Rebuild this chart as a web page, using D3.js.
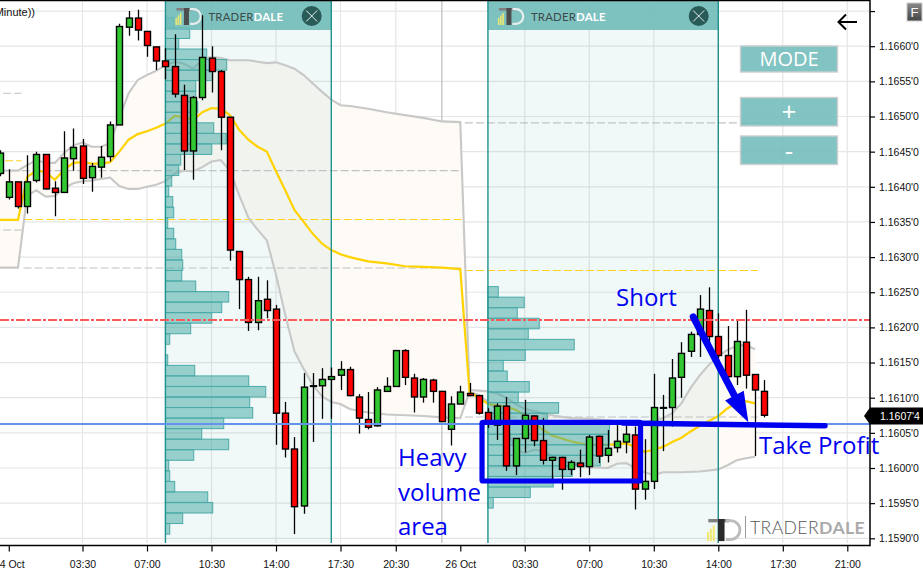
<!DOCTYPE html>
<html><head><meta charset="utf-8">
<style>html,body{margin:0;padding:0;background:#fff;overflow:hidden}svg{display:block}</style>
<script src="https://cdn.jsdelivr.net/npm/d3@7"></script></head>
<body><svg id="c" width="923" height="573"></svg>
<script>
const candleHours=[-1,-.5,0,.5,1,1.5,2,2.5,3,3.5,4,4.5,5,5.5,6,6.5,7,7.5,8,8.5,9,9.5,10,10.5,11,11.5,12,12.5,13,13.5,14,14.5,15,15.5,16,16.5,17,17.5,18,18.5,19,19.5,20,20.5,21,21.5,22,22.5,23,23.5,24,24.5,25,25.5,26,26.5,27,27.5,28,28.5,29,29.5,30,30.5,31,31.5,32,32.5,33,33.5,34,34.5,35,35.5,36,36.5,37,37.5,38,38.5,39,39.5,40,40.5];
const highs=[1.16452,1.16425,1.16407,1.16445,1.16450,1.16446,1.16408,1.16479,1.16483,1.16468,1.16434,1.16458,1.16493,1.16632,1.16650,1.16652,1.16621,1.16599,1.16597,1.16617,1.16545,1.16529,1.16644,1.16600,1.16566,1.16499,1.16308,1.16272,1.16272,1.16267,1.16232,1.16094,1.16044,1.16135,1.16135,1.16142,1.16143,1.16152,1.16144,1.16105,1.16108,1.16115,1.16129,1.16168,1.16169,1.16134,1.16128,1.16127,1.16109,1.16102,1.16117,1.16121,1.16104,1.16085,1.16092,1.16101,1.16042,1.16097,1.16075,1.16071,1.16016,1.16016,1.16011,1.16026,1.16047,1.16046,1.16054,1.16061,1.16064,1.16059,1.16041,1.16134,1.16104,1.16155,1.16179,1.16194,1.16246,1.16257,1.16220,1.16202,1.16210,1.16225,1.16133,1.16125];
const lows=[1.16415,1.16382,1.16369,1.16362,1.16406,1.16396,1.16358,1.16392,1.16423,1.16404,1.16393,1.16413,1.16436,1.16488,1.16615,1.16608,1.16585,1.16566,1.16553,1.16527,1.16424,1.16410,1.16523,1.16534,1.16452,1.16295,1.16226,1.16195,1.16196,1.16213,1.16033,1.16015,1.15906,1.15935,1.16037,1.16070,1.16070,1.16111,1.16102,1.16049,1.16055,1.16059,1.16109,1.16116,1.16118,1.16079,1.16093,1.16093,1.16066,1.16032,1.16091,1.16102,1.16076,1.16057,1.16040,1.15996,1.15990,1.16022,1.16031,1.16005,1.15983,1.15969,1.15990,1.15987,1.15990,1.16007,1.16008,1.16022,1.16021,1.15941,1.15955,1.15970,1.16024,1.16059,1.16100,1.16158,1.16158,1.16178,1.16154,1.16118,1.16118,1.16113,1.16017,1.16072];
const opens=[1.16419,1.16385,1.16407,1.16372,1.16409,1.16446,1.16398,1.16392,1.16440,1.16458,1.16413,1.16428,1.16443,1.16488,1.16627,1.16640,1.16621,1.16599,1.16579,1.16571,1.16530,1.16451,1.16527,1.16583,1.16564,1.16499,1.16308,1.16268,1.16207,1.16240,1.16226,1.16078,1.16027,1.15946,1.16116,1.16117,1.16126,1.16132,1.16140,1.16101,1.16069,1.16060,1.16109,1.16116,1.16167,1.16128,1.16101,1.16125,1.16109,1.16055,1.16091,1.16106,1.16103,1.16079,1.16061,1.16088,1.16003,1.16042,1.16074,1.16039,1.16011,1.16015,1.15998,1.16007,1.16002,1.16045,1.16018,1.16029,1.16037,1.16047,1.15970,1.15981,1.16085,1.16086,1.16129,1.16166,1.16190,1.16224,1.16187,1.16160,1.16130,1.16179,1.16133,1.16109];
const closes=[1.16448,1.16407,1.16372,1.16407,1.16446,1.16397,1.16392,1.16441,1.16456,1.16412,1.16429,1.16442,1.16488,1.16628,1.16640,1.16623,1.16601,1.16579,1.16571,1.16532,1.16451,1.16527,1.16584,1.16564,1.16499,1.16310,1.16268,1.16207,1.16238,1.16224,1.16078,1.16027,1.15945,1.16115,1.16117,1.16126,1.16130,1.16140,1.16103,1.16071,1.16058,1.16111,1.16116,1.16167,1.16129,1.16101,1.16126,1.16109,1.16066,1.16091,1.16108,1.16103,1.16078,1.16063,1.16088,1.16003,1.16042,1.16075,1.16039,1.16011,1.16015,1.15998,1.16008,1.16002,1.16044,1.16017,1.16028,1.16038,1.16048,1.15970,1.15981,1.16086,1.16086,1.16128,1.16163,1.16190,1.16226,1.16187,1.16160,1.16130,1.16180,1.16132,1.16111,1.16075];

const vwapHours=[-1,0,.5,1,1.5,2,2.5,3,3.5,4,4.5,5,5.5,6,6.5,7,7.5,8,8.5,9,9.5,10,10.5,11,11.5,12,12.5,13,13.5,14,14.5,15,15.5,16,16.5,17,17.5,18,19,20,21,22,23,23.5,24,24.5,25,25.5,26,26.5,27,27.5,28,28.5,29,29.5,30,30.5,31,31.5,32,32.5,33,33.5,34,34.5,35,35.5,36,36.5,37,37.5,38,38.5,39,39.5,40];
const vwapPrices=[1.16353,1.16353,1.16414,1.16423,1.16421,1.16410,1.16424,1.16434,1.16435,1.16433,1.16433,1.16435,1.16450,1.16467,1.16475,1.16479,1.16484,1.16490,1.16501,1.16499,1.16495,1.16506,1.16512,1.16511,1.16502,1.16481,1.16467,1.16457,1.16450,1.16422,1.16395,1.16367,1.16350,1.16333,1.16319,1.16310,1.16304,1.16300,1.16294,1.16291,1.16287,1.16286,1.16285,1.16284,1.16283,1.16108,1.16100,1.16091,1.16089,1.16087,1.16083,1.16075,1.16064,1.16054,1.16046,1.16042,1.16038,1.16035,1.16033,1.16033,1.16033,1.16034,1.16035,1.16030,1.16023,1.16026,1.16030,1.16037,1.16043,1.16052,1.16060,1.16067,1.16074,1.16085,1.16092,1.16095,1.16092];
const upperHours=[-1,0,.5,1,1.5,2,2.5,3,3.5,4,4.5,5,5.5,6,6.5,7,7.5,8,8.5,9,9.5,10,10.5,11,11.5,12,12.5,13,13.5,14,14.5,15,15.5,16,16.5,17,17.5,18,19,20,21,22,23,24,24.5,25,25.5,26,26.5,27,27.5,28,28.5,29,29.5,30,31,32,33,34,34.5,35,35.5,36,36.5,37,37.5,38,38.5,39,39.5,40];
const upperPrices=[1.16423,1.16423,1.16431,1.16438,1.16434,1.16434,1.16448,1.16459,1.16463,1.16457,1.16457,1.16462,1.16498,1.16533,1.16552,1.16559,1.16565,1.16573,1.16578,1.16575,1.16568,1.16581,1.16585,1.16583,1.16580,1.16580,1.16580,1.16578,1.16576,1.16577,1.16573,1.16568,1.16559,1.16547,1.16535,1.16524,1.16516,1.16515,1.16511,1.16506,1.16502,1.16498,1.16493,1.16492,1.16111,1.16110,1.16109,1.16106,1.16100,1.16091,1.16084,1.16081,1.16077,1.16075,1.16073,1.16071,1.16070,1.16068,1.16065,1.16065,1.16067,1.16071,1.16078,1.16092,1.16114,1.16132,1.16147,1.16159,1.16168,1.16174,1.16175,1.16169];
const lowerHours=[-1,0,.5,1,1.5,2,2.5,3,3.5,4,4.5,5,5.5,6,6.5,7,7.5,8,8.5,9,9.5,10,10.5,11,11.5,12,12.5,13,13.5,14,14.5,15,15.5,16,16.5,17,17.5,18,19,20,21,22,23,24,24.5,25,25.5,26,26.5,27,27.5,28,28.5,29,29.5,30,31,32,32.5,33,33.5,34,34.5,35,36,37,38,38.5,39,39.5,40];
const lowerPrices=[1.16285,1.16285,1.16388,1.16395,1.16386,1.16387,1.16398,1.16405,1.16408,1.16409,1.16411,1.16413,1.16401,1.16397,1.16397,1.16400,1.16403,1.16408,1.16419,1.16423,1.16422,1.16428,1.16436,1.16438,1.16423,1.16388,1.16356,1.16339,1.16324,1.16275,1.16218,1.16166,1.16141,1.16118,1.16102,1.16094,1.16091,1.16084,1.16079,1.16076,1.16075,1.16074,1.16072,1.16071,1.16108,1.16104,1.16094,1.16083,1.16057,1.16026,1.16021,1.16026,1.16024,1.16017,1.16011,1.16007,1.16001,1.16000,1.16006,1.16007,1.16000,1.15994,1.15990,1.15994,1.15994,1.15995,1.15998,1.16004,1.16011,1.16014,1.16016];

// volume profiles: lowest bin upward, one bin = 1.5 pips
const binSize=0.00015;
const profile1Low=1.15906;
const profile1Vol=[43,173,473,423,93,43,33,283,633,363,583,873,843,1003,833,293,23,0,43,253,463,563,633,303,163,173,163,103,83,23,83,73,33,63,133,153,463,607,483,313,323,303,303,473,613,413,133,243,87];
const profile2Low=1.15943;
const profile2Vol=[53,423,653,843,1123,1210,1215,1215,593,707,303,413,193,153,373,863,403,513,293,363,103];

const session1=[8,17], session2=[25.5,38];
// reference levels: price, from hour, to hour
const greyLevels=[[1.16533,-2,.2],[1.163385,-2,.2],[1.16423,.2,24.14],[1.162845,.3,24.14],[1.16491,24.25,40.18],[1.160725,24.25,40.14]];
const yellowLevels=[[1.163535,.35,24.14],[1.16437,-.7,.2],[1.16281,24.25,40.14]];
const redLevel=1.162105, blueLevel=1.160625;
const lastPrice="1.1607'4", lastValue=1.16074;

const axisPrices=[1.1590,1.1595,1.1600,1.1605,1.1610,1.1615,1.1620,1.1625,1.1630,1.1635,1.1640,1.1645,1.1650,1.1655,1.1660];
const axisExtra=1.1665;
const timeTicks=[-.5,3.5,7,10.5,14,17.5,20.5,24,27.5,31,34.5,38,41.5,45];
const timeLabels=["24 Oct","03:30","07:00","10:30","14:00","17:30","20:30","26 Oct","03:30","07:00","10:30","14:00","17:30","21:00"];
const dateTicks=[-.5,24], separatorHour=23;

// annotations in chart units
const boxH=[25.18,33.78], boxP=[1.16065,1.159815];
const tpLine=[[32.83,1.16064],[43.79,1.16060]];
const shortArrow=[[36.64,1.16215],[39.63,1.16065]];

const svg=d3.select("#c");
const W=870,B=545.5;
const x=d3.scaleLinear().domain([3.5,45]).range([82.5,847.3]);
const y=d3.scaleLinear().domain([1.1590,1.1660]).range([538.3,46.2]);
const vol=d3.scaleLinear().domain([0,1000]).range([0,100]);
const defs=svg.append("defs");
defs.append("clipPath").attr("id","plot").append("rect").attr("x",0).attr("y",1).attr("width",W).attr("height",B-1);
const g0=svg.append("g").attr("clip-path","url(#plot)");

// gridlines
g0.append("g").selectAll("line").data(axisPrices.concat(axisExtra)).join("line")
 .attr("x1",0).attr("x2",W).attr("y1",d=>y(d)).attr("y2",d=>y(d)).attr("stroke","#e6e6e6").attr("stroke-width",1.2);
g0.append("g").selectAll("line").data(timeTicks.filter(t=>!dateTicks.includes(t))).join("line")
 .attr("x1",d=>x(d)).attr("x2",d=>x(d)).attr("y1",1).attr("y2",543).attr("stroke","#e6e6e6").attr("stroke-width",1.2);
g0.append("line").attr("x1",x(separatorHour)).attr("x2",x(separatorHour)).attr("y1",1).attr("y2",543).attr("stroke","#bdbdbd").attr("stroke-width",1.2);

// band fill
const pts=(hs,ps)=>hs.map((h,i)=>[x(h),y(ps[i])]);
const up=pts(upperHours,upperPrices), lo=pts(lowerHours,lowerPrices), vw=pts(vwapHours,vwapPrices);
const line=d3.line();
g0.append("path").attr("d",line(up.concat(lo.slice().reverse()))+"Z").attr("fill","#fefaf5");

// sessions body
[session1,session2].forEach(s=>{
 g0.append("rect").attr("x",x(s[0])).attr("y",0).attr("width",x(s[1])-x(s[0])).attr("height",543).attr("fill","rgba(0,128,120,0.055)");
});

// dashed levels
const lev=(arr,col)=>g0.append("g").selectAll("line").data(arr).join("line")
 .attr("x1",d=>x(d[1])).attr("x2",d=>x(d[2])).attr("y1",d=>y(d[0])).attr("y2",d=>y(d[0]))
 .attr("stroke",col).attr("stroke-width",1.1).attr("stroke-dasharray","8,3");
lev(greyLevels,"#c2c2c2"); lev(yellowLevels,"#ffd21a");

// band lines and vwap
g0.append("path").attr("d",line(up)).attr("fill","none").attr("stroke","#c8c8c8").attr("stroke-width",2.1);
g0.append("path").attr("d",line(lo)).attr("fill","none").attr("stroke","#c8c8c8").attr("stroke-width",2.1);
g0.append("path").attr("d",line(vw)).attr("fill","none").attr("stroke","#ffd200").attr("stroke-width",2.2);

// profiles
const prof=(s,low,vols)=>g0.append("g").selectAll("rect").data(vols.map((v,i)=>({v,i})).filter(d=>d.v>0)).join("rect")
 .attr("x",x(s[0])).attr("width",d=>vol(d.v))
 .attr("y",d=>y(low+(d.i+1)*binSize)).attr("height",d=>y(low+d.i*binSize)-y(low+(d.i+1)*binSize))
 .attr("fill","rgba(62,165,162,0.5)").attr("stroke","#4aaba8").attr("stroke-width",1);
prof(session1,profile1Low,profile1Vol); prof(session2,profile2Low,profile2Vol);

// session headers + edges
function logo(parent,ox,oy,s,dCol,stem){
 const l=parent.append("g").attr("transform",`translate(${ox},${oy}) scale(${s})`);
 [[0,10,1.5,7],[2.2,7.5,1.5,9.5],[4.4,5,1.5,12]].forEach((b,i)=>l.append("rect").attr("x",b[0]).attr("y",b[1]).attr("width",b[2]).attr("height",b[3]).attr("fill",i==2?"#f2ea6a":"#efe86e"));
 l.append("rect").attr("x",1).attr("y",0).attr("width",16).attr("height",2.6).attr("fill","#808080");
 l.append("rect").attr("x",8.5).attr("y",0).attr("width",5).attr("height",17).attr("fill",stem);
 l.append("path").attr("d","M14.5,1.2 H18 A7.2,7.2 0 0 1 18,15.8 H14.5").attr("fill","none").attr("stroke",dCol).attr("stroke-width",2.2);
}
[session1,session2].forEach(s=>{
 const x0=x(s[0]),x1=x(s[1]);
 g0.append("rect").attr("x",x0).attr("y",0).attr("width",x1-x0).attr("height",30).attr("fill","rgba(108,186,184,0.87)");
 g0.append("line").attr("x1",x0).attr("x2",x0).attr("y1",0).attr("y2",543).attr("stroke","#1f928e").attr("stroke-width",1.4);
 g0.append("line").attr("x1",x1).attr("x2",x1).attr("y1",0).attr("y2",543).attr("stroke","#1f928e").attr("stroke-width",1.4);
 logo(g0,x0+10,8,1,"#e8eeee","#4d4d4d");
 const t=g0.append("text").attr("x",x0+43).attr("y",20.6).attr("font-family","Lato").attr("font-size",11.4).attr("letter-spacing",.2);
 t.append("tspan").attr("fill","#3c4a4a").text("TRADER");
 t.append("tspan").attr("fill","#ffffff").attr("font-weight",700).text("DALE");
 const cx=x1-19.6;
 g0.append("circle").attr("cx",cx).attr("cy",16).attr("r",10).attr("fill","#285a58");
 g0.append("path").attr("d",`M${cx-5.5},10.5 L${cx+5.5},21.5 M${cx+5.5},10.5 L${cx-5.5},21.5`).attr("stroke","#fff").attr("stroke-width",.9);
});

// candles
const candles=candleHours.map((h,i)=>({h,hi:highs[i],lo:lows[i],o:opens[i],c:closes[i]}));
const px=h=>Math.round(x(h))+.5;
const cg=g0.append("g");
cg.selectAll("line").data(candles).join("line")
 .attr("x1",d=>px(d.h)).attr("x2",d=>px(d.h)).attr("y1",d=>y(d.hi)).attr("y2",d=>y(d.lo))
 .attr("stroke","#000").attr("stroke-width",1.3);
cg.selectAll("rect").data(candles).join("rect")
 .attr("x",d=>px(d.h)-3).attr("width",6)
 .attr("y",d=>y(Math.max(d.o,d.c))).attr("height",d=>Math.abs(y(d.o)-y(d.c)))
 .attr("fill",d=>d.c>=d.o?"#32c832":"#ff0000").attr("stroke","#000").attr("stroke-width",1.4);

// horizontal key levels
g0.append("line").attr("x1",0).attr("x2",W).attr("y1",y(redLevel)).attr("y2",y(redLevel))
 .attr("stroke","#fb5a5a").attr("stroke-width",2).attr("stroke-dasharray","9,2,3,2");
g0.append("line").attr("x1",0).attr("x2",W).attr("y1",y(blueLevel)).attr("y2",y(blueLevel))
 .attr("stroke","#6592ee").attr("stroke-width",2.1);

// footer logo
logo(svg,707,519,1.3,"#bcbcbc","#2a2a2a");
svg.append("line").attr("x1",745.5).attr("x2",745.5).attr("y1",516).attr("y2",538).attr("stroke","#999").attr("stroke-width",1);
const ft=svg.append("text").attr("x",750).attr("y",534).attr("font-family","Lato").attr("font-size",17.6).attr("letter-spacing",.4);
ft.append("tspan").attr("fill","#555").attr("font-weight",300).text("TRADER");
ft.append("tspan").attr("fill","#aaa").attr("font-weight",700).text("DALE");

// annotations
const ink="#0000f0";
svg.append("rect").attr("x",x(boxH[0])).attr("y",y(boxP[0])).attr("width",x(boxH[1])-x(boxH[0])).attr("height",y(boxP[1])-y(boxP[0]))
 .attr("fill","none").attr("stroke",ink).attr("stroke-width",5.2).attr("rx",1);
svg.append("path").attr("d",line(tpLine.map(d=>[x(d[0]),y(d[1])]))).attr("stroke",ink).attr("stroke-width",5.5).attr("stroke-linecap","round").attr("fill","none");
const a0=[x(shortArrow[0][0]),y(shortArrow[0][1])],a1=[x(shortArrow[1][0]),y(shortArrow[1][1])];
const ang=Math.atan2(a1[1]-a0[1],a1[0]-a0[0]),L=30,Wd=10.5;
const bx=a1[0]-L*Math.cos(ang),by=a1[1]-L*Math.sin(ang);
svg.append("path").attr("d",line([a0,[bx,by]])).attr("stroke",ink).attr("stroke-width",7).attr("stroke-linecap","round").attr("fill","none");
svg.append("path").attr("d",line([a1,[bx+Wd*Math.sin(ang),by-Wd*Math.cos(ang)],[bx-Wd*Math.sin(ang),by+Wd*Math.cos(ang)]])+"Z").attr("fill",ink);
const note=(t,nx,ny)=>svg.append("text").attr("x",nx).attr("y",ny).attr("font-family","Open Sans").attr("font-size",24).attr("fill",ink).text(t);
note("Heavy",398,466);note("volume",398,501);note("area",398,535);note("Short",616,306);note("Take Profit",759,454);

// axes
const ax=svg.append("g").attr("transform",`translate(${W},0)`).call(d3.axisRight(y).tickValues(axisPrices.concat(axisExtra)).tickSize(5).tickPadding(4).tickFormat(d=>d===axisExtra?"":d3.format(".4f")(d)+"'0"));
const bx2=svg.append("g").attr("transform",`translate(0,${B})`).call(d3.axisBottom(x).tickValues(timeTicks).tickSize(6).tickPadding(9).tickFormat((d,i)=>timeLabels[i]));
[ax,bx2].forEach(a=>{a.selectAll("text").attr("font-family","Liberation Sans").attr("font-size",10.5).attr("fill","#111");
 a.selectAll("line").attr("stroke","#000").attr("stroke-width",1.2);a.select(".domain").remove();});
svg.append("line").attr("x1",W).attr("x2",W).attr("y1",0).attr("y2",B+.8).attr("stroke","#000").attr("stroke-width",1.5);
svg.append("line").attr("x1",0).attr("x2",W).attr("y1",B).attr("y2",B).attr("stroke","#000").attr("stroke-width",1.5);
svg.append("line").attr("x1",0).attr("x2",W).attr("y1",.5).attr("y2",.5).attr("stroke","#000").attr("stroke-width",1.4);
svg.append("text").attr("x",35).attr("y",16).attr("text-anchor","end").attr("font-family","Liberation Sans").attr("font-size",11).attr("fill","#111").text("Minute))");

// price tag
const ly=y(lastValue);
svg.append("path").attr("d",line([[864,ly],[870,ly-8.5],[923,ly-8.5],[923,ly+8.5],[870,ly+8.5]])+"Z").attr("fill","#000");
svg.append("text").attr("x",880).attr("y",ly+4).attr("font-family","Liberation Sans").attr("font-size",10.5).attr("fill","#fff").text(lastPrice);

// F button
const grad=defs.append("linearGradient").attr("id","fb").attr("x1",0).attr("x2",0).attr("y1",0).attr("y2",1);
grad.append("stop").attr("offset",0).attr("stop-color","#8a8a8a");grad.append("stop").attr("offset",1).attr("stop-color","#444");
svg.append("rect").attr("x",907).attr("y",3).attr("width",15).attr("height",18).attr("fill","url(#fb)").attr("stroke","#ccc");
svg.append("text").attr("x",914.5).attr("y",17).attr("text-anchor","middle").attr("font-family","Liberation Sans").attr("font-size",13).attr("fill","#fff").text("F");

// back arrow
svg.append("path").attr("d","M838,22 H857 M846,14.5 L838.5,22 L846,29.5").attr("fill","none").attr("stroke","#000").attr("stroke-width",2);

// buttons
[["MODE",46,26,20],["+",97.5,28.5,26],["-",136,28.5,26]].forEach(b=>{
 svg.append("rect").attr("x",740.5).attr("y",b[1]).attr("width",97).attr("height",b[2]).attr("fill","rgba(108,186,184,0.85)").attr("stroke","#cfcfcf").attr("stroke-width",1.4);
 svg.append("text").attr("x",789).attr("y",b[1]+b[2]/2+b[3]*.36).attr("text-anchor","middle").attr("font-family","Open Sans").attr("font-size",b[3]).attr("fill","#fff").text(b[0]);
});
</script></body></html>
